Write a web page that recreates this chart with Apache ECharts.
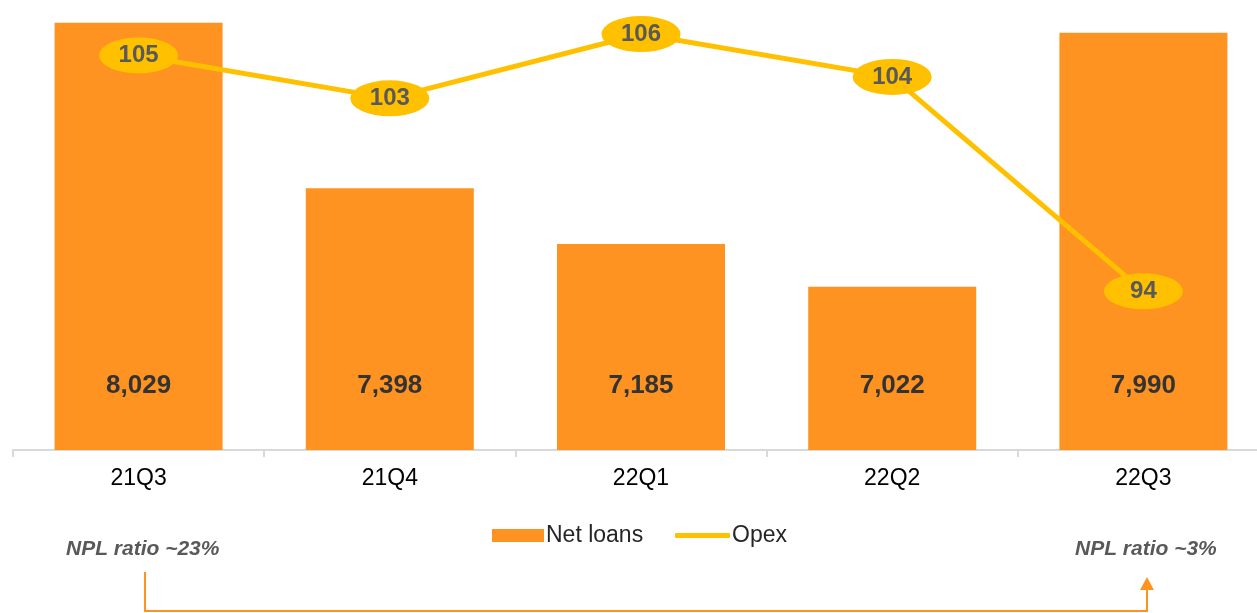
<!DOCTYPE html>
<html>
<head>
<meta charset="utf-8">
<script src="https://cdn.jsdelivr.net/npm/echarts@6/dist/echarts.min.js"></script>
<style>
html,body{margin:0;padding:0;background:#fff;}
#c{width:1257px;height:613px;}
</style>
</head>
<body>
<div id="c"></div>
<script>
const categories = ['21Q3', '21Q4', '22Q1', '22Q2', '22Q3'];
const netLoans = [8029, 7398, 7185, 7022, 7990];
const opex = [105, 103, 106, 104, 94];
const nplLeft = 'NPL ratio ~23%';
const nplRight = 'NPL ratio ~3%';

const FONT = '"Liberation Sans", Arial, sans-serif';
const ORANGE = '#FF9321';
const YELLOW = '#FFC000';

const chart = echarts.init(document.getElementById('c'));
chart.setOption({
  animation: false,
  textStyle: { fontFamily: FONT },
  grid: { left: 13, width: 1256, top: 4, height: 446, outerBoundsMode: 'none', containLabel: false },
  legend: [
    {
      data: ['Net loans'], left: 487, top: 519, itemWidth: 52, itemHeight: 13,
      icon: 'rect', itemGap: 0,
      textStyle: { fontSize: 23, color: '#262626', fontFamily: FONT, padding: [0, 0, 0, -3] }
    },
    {
      data: ['Opex'], left: 670, top: 519, itemWidth: 55, itemHeight: 5,
      icon: 'roundRect', itemGap: 0,
      textStyle: { fontSize: 23, color: '#262626', fontFamily: FONT, padding: [0, 0, 0, -3] }
    }
  ],
  xAxis: {
    type: 'category',
    data: categories,
    boundaryGap: true,
    axisLine: { lineStyle: { color: '#D9D9D9', width: 2 } },
    axisTick: { show: true, length: 7, lineStyle: { color: '#D9D9D9', width: 2 } },
    axisLabel: { fontSize: 23, color: '#000', margin: 17, fontFamily: FONT }
  },
  yAxis: [
    { type: 'value', min: 6400, max: 8100, show: false, splitLine: { show: false } },
    { type: 'value', min: 86.6, max: 107.4, show: false, splitLine: { show: false } }
  ],
  series: [
    {
      name: 'Net loans', type: 'bar', data: netLoans, barWidth: 168,
      itemStyle: { color: ORANGE },
      label: {
        show: true, position: 'insideBottom', distance: 51,
        fontSize: 26, fontWeight: 'bold', color: '#333333', fontFamily: FONT,
        formatter: p => p.value.toLocaleString('en-US')
      }
    },
    {
      name: 'Opex', type: 'line', yAxisIndex: 1, data: opex,
      lineStyle: { color: YELLOW, width: 5 },
      itemStyle: { color: YELLOW },
      symbol: 'circle', symbolSize: [79, 36],
      label: {
        show: true, position: 'inside',
        fontSize: 24, fontWeight: 'bold', color: '#595959', fontFamily: FONT
      },
      z: 5
    }
  ],
  graphic: [
    {
      type: 'text', left: 66, top: 539,
      style: { text: nplLeft, font: 'italic bold 21px ' + FONT, fill: '#595959' }
    },
    {
      type: 'text', left: 1075, top: 539,
      style: { text: nplRight, font: 'italic bold 21px ' + FONT, fill: '#595959' }
    },
    {
      type: 'polyline',
      shape: { points: [[145, 572], [145, 611], [1147, 611], [1147, 588]] },
      style: { stroke: ORANGE, lineWidth: 2, fill: null }
    },
    {
      type: 'polygon',
      shape: { points: [[1140, 590], [1154, 590], [1147, 577]] },
      style: { fill: ORANGE }
    }
  ]
});
</script>
</body>
</html>
